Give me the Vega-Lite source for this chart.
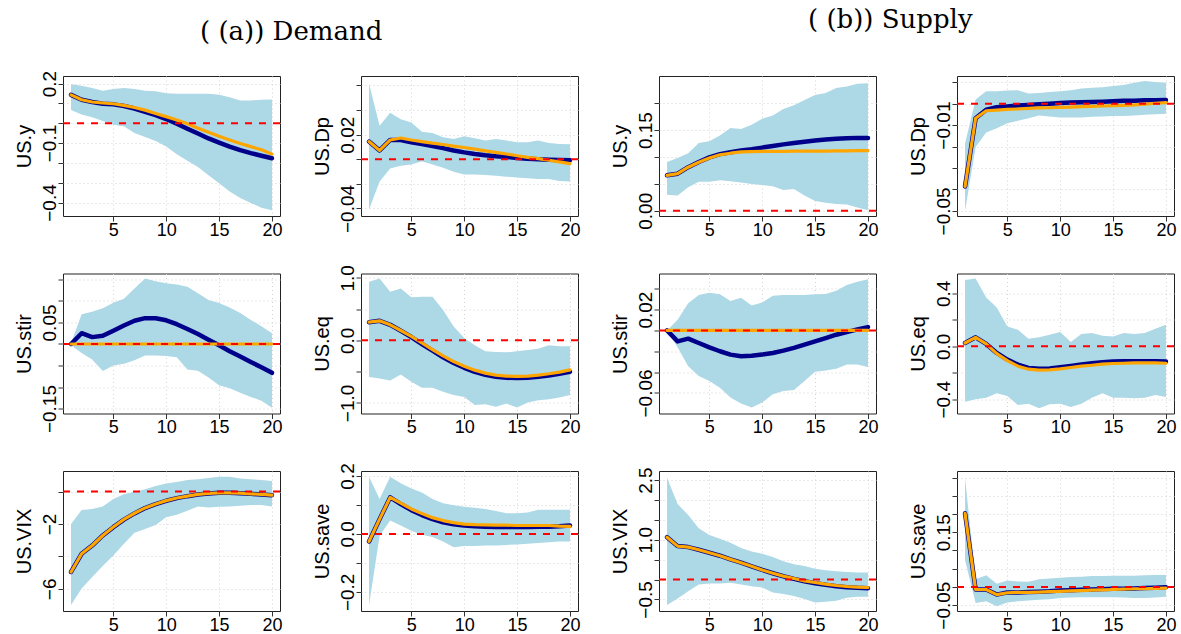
{
"$schema":"https://vega.github.io/schema/vega-lite/v6.json",
"padding":{"left":13,"top":6,"right":4,"bottom":0},
"background":"white",
"config":{
 "view":{"stroke":"#222","strokeWidth":1},
 "font":"Liberation Sans",
 "axis":{"domain":false,"grid":true,"gridColor":"#d3d3d3","gridDash":[1,3],"gridWidth":1,"tickColor":"#333","tickSize":5,"labelFont":"Liberation Sans","labelFontSize":19,"labelColor":"#000","titleFont":"Liberation Sans","titleFontSize":20,"titleFontWeight":"normal","titleColor":"#000","labelFlush":false,"labelOverlap":false,"labelBound":false},
 "axisY":{"labelAngle":-90,"labelAlign":"center","labelBaseline":"alphabetic","labelPadding":3,"titlePadding":6,"labelOverlap":false,"tickCount":30},
 "axisX":{"labelPadding":0,"labelFontSize":18,"format":"d"},
 "line":{"strokeCap":"round","strokeJoin":"round"},
 "title":{"font":"DejaVu Serif","fontSize":26,"fontWeight":"normal","color":"#000"}
},
"datasets":{
 "Ay":[
  {"h":1,"lo":0.066,"hi":0.197,"b":0.143,"o":0.143},{"h":2,"lo":0.044,"hi":0.189,"b":0.118,"o":0.118},{"h":3,"lo":0.030,"hi":0.177,"b":0.107,"o":0.107},{"h":4,"lo":0.011,"hi":0.164,"b":0.098,"o":0.102},{"h":5,"lo":-0.008,"hi":0.172,"b":0.095,"o":0.098},{"h":6,"lo":-0.016,"hi":0.177,"b":0.087,"o":0.090},{"h":7,"lo":-0.049,"hi":0.172,"b":0.074,"o":0.079},{"h":8,"lo":-0.069,"hi":0.164,"b":0.057,"o":0.066},{"h":9,"lo":-0.090,"hi":0.161,"b":0.041,"o":0.049},{"h":10,"lo":-0.118,"hi":0.151,"b":0.021,"o":0.033},{"h":11,"lo":-0.156,"hi":0.148,"b":-0.003,"o":0.016},{"h":12,"lo":-0.189,"hi":0.148,"b":-0.028,"o":-0.003},{"h":13,"lo":-0.221,"hi":0.148,"b":-0.052,"o":-0.025},{"h":14,"lo":-0.262,"hi":0.148,"b":-0.077,"o":-0.046},{"h":15,"lo":-0.303,"hi":0.144,"b":-0.098,"o":-0.066},{"h":16,"lo":-0.344,"hi":0.131,"b":-0.118,"o":-0.085},{"h":17,"lo":-0.377,"hi":0.115,"b":-0.136,"o":-0.102},{"h":18,"lo":-0.402,"hi":0.115,"b":-0.151,"o":-0.118},{"h":19,"lo":-0.426,"hi":0.118,"b":-0.164,"o":-0.134},{"h":20,"lo":-0.439,"hi":0.120,"b":-0.177,"o":-0.156}],
 "ADp":[
  {"h":1,"lo":-0.0408,"hi":0.0613,"b":0.0144,"o":0.0144},{"h":2,"lo":-0.0181,"hi":0.0272,"b":0.0072,"o":0.0072},{"h":3,"lo":-0.0075,"hi":0.0379,"b":0.0157,"o":0.0157},{"h":4,"lo":-0.0053,"hi":0.0325,"b":0.0157,"o":0.0173},{"h":5,"lo":-0.0043,"hi":0.0299,"b":0.0139,"o":0.0157},{"h":6,"lo":-0.0016,"hi":0.0224,"b":0.0123,"o":0.0144},{"h":7,"lo":-0.0043,"hi":0.0213,"b":0.0107,"o":0.0131},{"h":8,"lo":-0.0069,"hi":0.0179,"b":0.0091,"o":0.0120},{"h":9,"lo":-0.0101,"hi":0.0165,"b":0.0072,"o":0.0107},{"h":10,"lo":-0.0123,"hi":0.0187,"b":0.0056,"o":0.0096},{"h":11,"lo":-0.0123,"hi":0.0171,"b":0.0043,"o":0.0083},{"h":12,"lo":-0.0128,"hi":0.0152,"b":0.0032,"o":0.0069},{"h":13,"lo":-0.0133,"hi":0.0165,"b":0.0024,"o":0.0056},{"h":14,"lo":-0.0141,"hi":0.0152,"b":0.0019,"o":0.0043},{"h":15,"lo":-0.0149,"hi":0.0139,"b":0.0011,"o":0.0029},{"h":16,"lo":-0.0155,"hi":0.0139,"b":0.0005,"o":0.0016},{"h":17,"lo":-0.0160,"hi":0.0152,"b":0.0000,"o":0.0005},{"h":18,"lo":-0.0160,"hi":0.0133,"b":-0.0003,"o":-0.0008},{"h":19,"lo":-0.0176,"hi":0.0125,"b":-0.0005,"o":-0.0021},{"h":20,"lo":-0.0181,"hi":0.0123,"b":-0.0008,"o":-0.0035}],
 "Astir":[
  {"h":1,"lo":-0.003,"hi":0.002,"b":0,"o":0},{"h":2,"lo":-0.021,"hi":0.069,"b":0.025,"o":0},{"h":3,"lo":-0.036,"hi":0.075,"b":0.016,"o":0},{"h":4,"lo":-0.063,"hi":0.083,"b":0.019,"o":0},{"h":5,"lo":-0.050,"hi":0.096,"b":0.031,"o":0},{"h":6,"lo":-0.046,"hi":0.105,"b":0.043,"o":0},{"h":7,"lo":-0.038,"hi":0.129,"b":0.054,"o":0},{"h":8,"lo":-0.027,"hi":0.152,"b":0.060,"o":0},{"h":9,"lo":-0.027,"hi":0.146,"b":0.060,"o":0},{"h":10,"lo":-0.028,"hi":0.141,"b":0.055,"o":0},{"h":11,"lo":-0.031,"hi":0.138,"b":0.046,"o":0},{"h":12,"lo":-0.059,"hi":0.133,"b":0.035,"o":0},{"h":13,"lo":-0.062,"hi":0.118,"b":0.023,"o":0},{"h":14,"lo":-0.078,"hi":0.102,"b":0.010,"o":0},{"h":15,"lo":-0.096,"hi":0.095,"b":-0.003,"o":0},{"h":16,"lo":-0.103,"hi":0.085,"b":-0.017,"o":0},{"h":17,"lo":-0.113,"hi":0.072,"b":-0.029,"o":0},{"h":18,"lo":-0.123,"hi":0.056,"b":-0.042,"o":0},{"h":19,"lo":-0.132,"hi":0.041,"b":-0.054,"o":0},{"h":20,"lo":-0.148,"hi":0.025,"b":-0.067,"o":0}],
 "Aeq":[
  {"h":1,"lo":-0.587,"hi":0.937,"b":0.291,"o":0.291},{"h":2,"lo":-0.608,"hi":0.989,"b":0.312,"o":0.312},{"h":3,"lo":-0.640,"hi":0.778,"b":0.249,"o":0.249},{"h":4,"lo":-0.545,"hi":0.831,"b":0.153,"o":0.158},{"h":5,"lo":-0.661,"hi":0.688,"b":0.053,"o":0.063},{"h":6,"lo":-0.757,"hi":0.698,"b":-0.058,"o":-0.042},{"h":7,"lo":-0.757,"hi":0.698,"b":-0.164,"o":-0.148},{"h":8,"lo":-0.820,"hi":0.487,"b":-0.270,"o":-0.249},{"h":9,"lo":-0.873,"hi":0.222,"b":-0.360,"o":-0.339},{"h":10,"lo":-0.905,"hi":0.037,"b":-0.439,"o":-0.413},{"h":11,"lo":-1.032,"hi":-0.079,"b":-0.503,"o":-0.476},{"h":12,"lo":-1.021,"hi":-0.175,"b":-0.550,"o":-0.524},{"h":13,"lo":-1.063,"hi":-0.185,"b":-0.582,"o":-0.556},{"h":14,"lo":-1.011,"hi":-0.190,"b":-0.598,"o":-0.571},{"h":15,"lo":-1.074,"hi":-0.175,"b":-0.603,"o":-0.577},{"h":16,"lo":-0.995,"hi":-0.153,"b":-0.598,"o":-0.571},{"h":17,"lo":-0.958,"hi":-0.132,"b":-0.582,"o":-0.556},{"h":18,"lo":-0.942,"hi":-0.079,"b":-0.561,"o":-0.534},{"h":19,"lo":-0.915,"hi":-0.095,"b":-0.534,"o":-0.508},{"h":20,"lo":-0.873,"hi":-0.095,"b":-0.503,"o":-0.471}],
 "AVIX":[
  {"h":1,"lo":-7.0,"hi":-2.0,"b":-4.96,"o":-4.96},{"h":2,"lo":-5.98,"hi":-1.143,"b":-3.84,"o":-3.84},{"h":3,"lo":-5.27,"hi":-1.082,"b":-3.33,"o":-3.33},{"h":4,"lo":-4.59,"hi":-0.918,"b":-2.71,"o":-2.71},{"h":5,"lo":-3.94,"hi":-0.469,"b":-2.20,"o":-2.19},{"h":6,"lo":-3.22,"hi":-0.163,"b":-1.73,"o":-1.72},{"h":7,"lo":-2.55,"hi":-0.02,"b":-1.35,"o":-1.34},{"h":8,"lo":-2.31,"hi":0.143,"b":-1.02,"o":-1.01},{"h":9,"lo":-2.06,"hi":0.347,"b":-0.776,"o":-0.765},{"h":10,"lo":-1.59,"hi":0.49,"b":-0.571,"o":-0.56},{"h":11,"lo":-1.43,"hi":0.592,"b":-0.408,"o":-0.40},{"h":12,"lo":-1.18,"hi":0.714,"b":-0.286,"o":-0.28},{"h":13,"lo":-0.918,"hi":0.755,"b":-0.184,"o":-0.18},{"h":14,"lo":-0.98,"hi":0.837,"b":-0.122,"o":-0.12},{"h":15,"lo":-0.94,"hi":0.918,"b":-0.082,"o":-0.08},{"h":16,"lo":-0.918,"hi":0.918,"b":-0.082,"o":-0.08},{"h":17,"lo":-0.878,"hi":0.796,"b":-0.102,"o":-0.10},{"h":18,"lo":-0.837,"hi":0.755,"b":-0.143,"o":-0.14},{"h":19,"lo":-0.837,"hi":0.714,"b":-0.184,"o":-0.18},{"h":20,"lo":-0.918,"hi":0.653,"b":-0.224,"o":-0.22}],
 "Asave":[
  {"h":1,"lo":-0.246,"hi":0.197,"b":-0.026,"o":-0.026},{"h":2,"lo":-0.006,"hi":0.120,"b":0.051,"o":0.051},{"h":3,"lo":0.046,"hi":0.197,"b":0.126,"o":0.126},{"h":4,"lo":0.029,"hi":0.175,"b":0.103,"o":0.106},{"h":5,"lo":0.011,"hi":0.157,"b":0.082,"o":0.086},{"h":6,"lo":-0.003,"hi":0.143,"b":0.065,"o":0.070},{"h":7,"lo":-0.011,"hi":0.120,"b":0.051,"o":0.056},{"h":8,"lo":-0.026,"hi":0.106,"b":0.040,"o":0.046},{"h":9,"lo":-0.046,"hi":0.099,"b":0.033,"o":0.039},{"h":10,"lo":-0.042,"hi":0.094,"b":0.029,"o":0.034},{"h":11,"lo":-0.042,"hi":0.090,"b":0.026,"o":0.032},{"h":12,"lo":-0.040,"hi":0.086,"b":0.025,"o":0.031},{"h":13,"lo":-0.040,"hi":0.079,"b":0.024,"o":0.030},{"h":14,"lo":-0.038,"hi":0.071,"b":0.024,"o":0.030},{"h":15,"lo":-0.037,"hi":0.071,"b":0.024,"o":0.029},{"h":16,"lo":-0.034,"hi":0.074,"b":0.024,"o":0.029},{"h":17,"lo":-0.031,"hi":0.083,"b":0.025,"o":0.029},{"h":18,"lo":-0.029,"hi":0.083,"b":0.025,"o":0.029},{"h":19,"lo":-0.026,"hi":0.083,"b":0.026,"o":0.027},{"h":20,"lo":-0.026,"hi":0.083,"b":0.029,"o":0.026}],
 "By":[
  {"h":1,"lo":0.0296,"hi":0.0907,"b":0.0659,"o":0.0659},{"h":2,"lo":0.0284,"hi":0.098,"b":0.069,"o":0.069},{"h":3,"lo":0.0436,"hi":0.107,"b":0.081,"o":0.081},{"h":4,"lo":0.0538,"hi":0.126,"b":0.0907,"o":0.0901},{"h":5,"lo":0.0538,"hi":0.129,"b":0.0992,"o":0.098},{"h":6,"lo":0.0569,"hi":0.140,"b":0.1053,"o":0.104},{"h":7,"lo":0.055,"hi":0.154,"b":0.1089,"o":0.107},{"h":8,"lo":0.0526,"hi":0.152,"b":0.1119,"o":0.1095},{"h":9,"lo":0.0496,"hi":0.160,"b":0.1143,"o":0.110},{"h":10,"lo":0.0478,"hi":0.171,"b":0.1174,"o":0.1105},{"h":11,"lo":0.0454,"hi":0.177,"b":0.1204,"o":0.1105},{"h":12,"lo":0.0387,"hi":0.189,"b":0.1234,"o":0.1105},{"h":13,"lo":0.0405,"hi":0.196,"b":0.1258,"o":0.111},{"h":14,"lo":0.0284,"hi":0.206,"b":0.1282,"o":0.111},{"h":15,"lo":0.0181,"hi":0.215,"b":0.1307,"o":0.111},{"h":16,"lo":0.0151,"hi":0.219,"b":0.1325,"o":0.111},{"h":17,"lo":0.0127,"hi":0.228,"b":0.1337,"o":0.1115},{"h":18,"lo":0.0115,"hi":0.231,"b":0.1349,"o":0.1115},{"h":19,"lo":0.006,"hi":0.236,"b":0.1355,"o":0.1119},{"h":20,"lo":0.0012,"hi":0.237,"b":0.1355,"o":0.1119}],
 "BDp":[
  {"h":1,"lo":-0.0501,"hi":-0.0186,"b":-0.0386,"o":-0.0386},{"h":2,"lo":-0.0202,"hi":0.0019,"b":-0.0068,"o":-0.0068},{"h":3,"lo":-0.0134,"hi":0.0058,"b":-0.0028,"o":-0.0033},{"h":4,"lo":-0.0115,"hi":0.0058,"b":-0.0017,"o":-0.0030},{"h":5,"lo":-0.0091,"hi":0.0061,"b":-0.0013,"o":-0.0027},{"h":6,"lo":-0.0080,"hi":0.0063,"b":-0.0009,"o":-0.0025},{"h":7,"lo":-0.0068,"hi":0.0047,"b":-0.0006,"o":-0.0022},{"h":8,"lo":-0.0055,"hi":0.0050,"b":-0.0003,"o":-0.0020},{"h":9,"lo":-0.0060,"hi":0.0054,"b":0.0000,"o":-0.0019},{"h":10,"lo":-0.0065,"hi":0.0058,"b":0.0003,"o":-0.0017},{"h":11,"lo":-0.0065,"hi":0.0063,"b":0.0005,"o":-0.0016},{"h":12,"lo":-0.0065,"hi":0.0071,"b":0.0006,"o":-0.0014},{"h":13,"lo":-0.0061,"hi":0.0074,"b":0.0008,"o":-0.0013},{"h":14,"lo":-0.0060,"hi":0.0077,"b":0.0009,"o":-0.0011},{"h":15,"lo":-0.0058,"hi":0.0082,"b":0.0011,"o":-0.0009},{"h":16,"lo":-0.0057,"hi":0.0087,"b":0.0013,"o":-0.0008},{"h":17,"lo":-0.0055,"hi":0.0098,"b":0.0014,"o":-0.0006},{"h":18,"lo":-0.0052,"hi":0.0106,"b":0.0016,"o":-0.0002},{"h":19,"lo":-0.0049,"hi":0.0101,"b":0.0016,"o":0.0002},{"h":20,"lo":-0.0047,"hi":0.0098,"b":0.0017,"o":0.0005}],
 "Bstir":[
  {"h":1,"lo":0,"hi":0,"b":0,"o":0},{"h":2,"lo":-0.0162,"hi":0.0102,"b":-0.0105,"o":0},{"h":3,"lo":-0.0343,"hi":0.026,"b":-0.0079,"o":0},{"h":4,"lo":-0.0438,"hi":0.034,"b":-0.0121,"o":0},{"h":5,"lo":-0.0486,"hi":0.0362,"b":-0.0162,"o":0},{"h":6,"lo":-0.0549,"hi":0.0346,"b":-0.020,"o":0},{"h":7,"lo":-0.0644,"hi":0.0283,"b":-0.0232,"o":0},{"h":8,"lo":-0.0702,"hi":0.0314,"b":-0.0248,"o":0},{"h":9,"lo":-0.074,"hi":0.0238,"b":-0.0244,"o":0},{"h":10,"lo":-0.0692,"hi":0.0267,"b":-0.0232,"o":0},{"h":11,"lo":-0.0613,"hi":0.0333,"b":-0.0216,"o":0},{"h":12,"lo":-0.0581,"hi":0.034,"b":-0.0194,"o":0},{"h":13,"lo":-0.0571,"hi":0.034,"b":-0.0168,"o":0},{"h":14,"lo":-0.0486,"hi":0.034,"b":-0.0137,"o":0},{"h":15,"lo":-0.0397,"hi":0.0346,"b":-0.0105,"o":0},{"h":16,"lo":-0.0384,"hi":0.0349,"b":-0.0073,"o":0},{"h":17,"lo":-0.0368,"hi":0.0381,"b":-0.0041,"o":0},{"h":18,"lo":-0.0327,"hi":0.0435,"b":-0.0016,"o":0},{"h":19,"lo":-0.0327,"hi":0.0467,"b":0.001,"o":0},{"h":20,"lo":-0.0352,"hi":0.0492,"b":0.0032,"o":0}],
 "Beq":[
  {"h":1,"lo":-0.418,"hi":0.500,"b":0.025,"o":0.025},{"h":2,"lo":-0.400,"hi":0.513,"b":0.068,"o":0.068},{"h":3,"lo":-0.388,"hi":0.368,"b":0.018,"o":0.018},{"h":4,"lo":-0.355,"hi":0.293,"b":-0.050,"o":-0.055},{"h":5,"lo":-0.375,"hi":0.150,"b":-0.100,"o":-0.108},{"h":6,"lo":-0.443,"hi":0.125,"b":-0.138,"o":-0.150},{"h":7,"lo":-0.433,"hi":0.058,"b":-0.163,"o":-0.173},{"h":8,"lo":-0.468,"hi":0.068,"b":-0.170,"o":-0.180},{"h":9,"lo":-0.438,"hi":0.088,"b":-0.168,"o":-0.178},{"h":10,"lo":-0.433,"hi":0.108,"b":-0.158,"o":-0.170},{"h":11,"lo":-0.458,"hi":0.033,"b":-0.148,"o":-0.160},{"h":12,"lo":-0.433,"hi":0.093,"b":-0.138,"o":-0.150},{"h":13,"lo":-0.388,"hi":0.100,"b":-0.128,"o":-0.143},{"h":14,"lo":-0.355,"hi":0.080,"b":-0.120,"o":-0.135},{"h":15,"lo":-0.388,"hi":0.075,"b":-0.115,"o":-0.130},{"h":16,"lo":-0.388,"hi":0.100,"b":-0.113,"o":-0.128},{"h":17,"lo":-0.393,"hi":0.093,"b":-0.113,"o":-0.125},{"h":18,"lo":-0.388,"hi":0.100,"b":-0.113,"o":-0.125},{"h":19,"lo":-0.368,"hi":0.133,"b":-0.113,"o":-0.125},{"h":20,"lo":-0.383,"hi":0.163,"b":-0.115,"o":-0.128}],
 "BVIX":[
  {"h":1,"lo":-0.64,"hi":2.56,"b":1.064,"o":1.064},{"h":2,"lo":-0.474,"hi":1.895,"b":0.84,"o":0.84},{"h":3,"lo":-0.291,"hi":1.621,"b":0.815,"o":0.815},{"h":4,"lo":-0.125,"hi":1.288,"b":0.748,"o":0.748},{"h":5,"lo":-0.10,"hi":1.122,"b":0.673,"o":0.673},{"h":6,"lo":-0.10,"hi":1.022,"b":0.599,"o":0.599},{"h":7,"lo":-0.083,"hi":0.923,"b":0.507,"o":0.507},{"h":8,"lo":-0.125,"hi":0.79,"b":0.424,"o":0.424},{"h":9,"lo":-0.166,"hi":0.707,"b":0.333,"o":0.333},{"h":10,"lo":-0.20,"hi":0.648,"b":0.241,"o":0.241},{"h":11,"lo":-0.324,"hi":0.565,"b":0.158,"o":0.16},{"h":12,"lo":-0.366,"hi":0.457,"b":0.083,"o":0.087},{"h":13,"lo":-0.416,"hi":0.382,"b":0.017,"o":0.025},{"h":14,"lo":-0.49,"hi":0.341,"b":-0.042,"o":-0.033},{"h":15,"lo":-0.574,"hi":0.274,"b":-0.091,"o":-0.075},{"h":16,"lo":-0.557,"hi":0.233,"b":-0.133,"o":-0.116},{"h":17,"lo":-0.532,"hi":0.208,"b":-0.166,"o":-0.150},{"h":18,"lo":-0.457,"hi":0.191,"b":-0.191,"o":-0.175},{"h":19,"lo":-0.432,"hi":0.175,"b":-0.208,"o":-0.191},{"h":20,"lo":-0.432,"hi":0.175,"b":-0.216,"o":-0.200}],
 "Bsave":[
  {"h":1,"lo":0.073,"hi":0.300,"b":0.202,"o":0.202},{"h":2,"lo":-0.044,"hi":0.021,"b":-0.007,"o":-0.007},{"h":3,"lo":-0.039,"hi":0.032,"b":-0.007,"o":-0.007},{"h":4,"lo":-0.053,"hi":0.009,"b":-0.021,"o":-0.021},{"h":5,"lo":-0.043,"hi":0.018,"b":-0.015,"o":-0.016},{"h":6,"lo":-0.039,"hi":0.015,"b":-0.015,"o":-0.015},{"h":7,"lo":-0.037,"hi":0.014,"b":-0.014,"o":-0.015},{"h":8,"lo":-0.035,"hi":0.021,"b":-0.013,"o":-0.014},{"h":9,"lo":-0.034,"hi":0.023,"b":-0.012,"o":-0.013},{"h":10,"lo":-0.030,"hi":0.025,"b":-0.010,"o":-0.012},{"h":11,"lo":-0.029,"hi":0.027,"b":-0.009,"o":-0.011},{"h":12,"lo":-0.028,"hi":0.028,"b":-0.008,"o":-0.010},{"h":13,"lo":-0.028,"hi":0.030,"b":-0.007,"o":-0.009},{"h":14,"lo":-0.028,"hi":0.030,"b":-0.006,"o":-0.008},{"h":15,"lo":-0.028,"hi":0.031,"b":-0.005,"o":-0.007},{"h":16,"lo":-0.029,"hi":0.031,"b":-0.005,"o":-0.006},{"h":17,"lo":-0.030,"hi":0.031,"b":-0.004,"o":-0.005},{"h":18,"lo":-0.030,"hi":0.032,"b":-0.003,"o":-0.005},{"h":19,"lo":-0.029,"hi":0.033,"b":-0.002,"o":-0.004},{"h":20,"lo":-0.027,"hi":0.033,"b":-0.001,"o":-0.003}]
},
"bounds":"flush",
"columns":4,
"spacing":{"row":57.5,"column":81},
"concat":[
   {"data":{"name":"Ay"},"width":217,"height":140,"title":{"text":"( (a)) Demand","anchor":"start","frame":"group","dx":137,"offset":25},
    "layer":[
     {"mark":{"type":"area","color":"#ADD8E6","opacity":1},"encoding":{"x":{"field":"h","type":"quantitative","scale":{"domain":[0.24,20.76],"nice":false,"zero":false},"axis":{"values":[5,10,15,20],"title":null,"format":"d"}},"y":{"field":"lo","type":"quantitative","scale":{"domain":[-0.468,0.238],"nice":false,"zero":false},"axis":{"title":"US.y","tickCount":30,"values":[-0.4,-0.3,-0.2,-0.1,0,0.1,0.2],"format":".1f","labelExpr":"indexof([0.2,-0.1,-0.4],datum.value)>=0?datum.label:''"}},"y2":{"field":"hi"}}},
     {"mark":{"type":"line","color":"#00008B","strokeWidth":4.5},"encoding":{"x":{"field":"h","type":"quantitative"},"y":{"field":"b","type":"quantitative"}}},
     {"mark":{"type":"line","color":"#FFA500","strokeWidth":3.2},"encoding":{"x":{"field":"h","type":"quantitative"},"y":{"field":"o","type":"quantitative"}}},
     {"transform":[{"filter":"datum.h==1"}],"mark":{"type":"rule","color":"#FF0000","strokeDash":[7,7],"strokeWidth":2},"encoding":{"y":{"datum":0}}}]},
   {"data":{"name":"ADp"},"width":217,"height":140,
    "layer":[
     {"mark":{"type":"area","color":"#ADD8E6","opacity":1},"encoding":{"x":{"field":"h","type":"quantitative","scale":{"domain":[0.24,20.76],"nice":false,"zero":false},"axis":{"values":[5,10,15,20],"title":null,"format":"d"}},"y":{"field":"lo","type":"quantitative","scale":{"domain":[-0.0461,0.0677],"nice":false,"zero":false},"axis":{"title":"US.Dp","tickCount":30,"values":[-0.04,-0.02,0,0.02,0.04,0.06],"format":".2f","labelExpr":"indexof([0.02,-0.04],datum.value)>=0?datum.label:''"}},"y2":{"field":"hi"}}},
     {"mark":{"type":"line","color":"#00008B","strokeWidth":4.5},"encoding":{"x":{"field":"h","type":"quantitative"},"y":{"field":"b","type":"quantitative"}}},
     {"mark":{"type":"line","color":"#FFA500","strokeWidth":3.2},"encoding":{"x":{"field":"h","type":"quantitative"},"y":{"field":"o","type":"quantitative"}}},
     {"transform":[{"filter":"datum.h==1"}],"mark":{"type":"rule","color":"#FF0000","strokeDash":[7,7],"strokeWidth":2},"encoding":{"y":{"datum":0}}}]},
   {"data":{"name":"By"},"width":217,"height":140,"title":{"text":"( (b)) Supply","anchor":"start","frame":"group","dx":149,"offset":43},
    "layer":[
     {"mark":{"type":"area","color":"#ADD8E6","opacity":1},"encoding":{"x":{"field":"h","type":"quantitative","scale":{"domain":[0.24,20.76],"nice":false,"zero":false},"axis":{"values":[5,10,15,20],"title":null,"format":"d"}},"y":{"field":"lo","type":"quantitative","scale":{"domain":[-0.0097,0.2505],"nice":false,"zero":false},"axis":{"title":"US.y","tickCount":30,"values":[0,0.05,0.1,0.15,0.2],"format":".2f","labelExpr":"indexof([0.15,0],datum.value)>=0?datum.label:''"}},"y2":{"field":"hi"}}},
     {"mark":{"type":"line","color":"#00008B","strokeWidth":4.5},"encoding":{"x":{"field":"h","type":"quantitative"},"y":{"field":"b","type":"quantitative"}}},
     {"mark":{"type":"line","color":"#FFA500","strokeWidth":3.2},"encoding":{"x":{"field":"h","type":"quantitative"},"y":{"field":"o","type":"quantitative"}}},
     {"transform":[{"filter":"datum.h==1"}],"mark":{"type":"rule","color":"#FF0000","strokeDash":[7,7],"strokeWidth":2},"encoding":{"y":{"datum":0}}}]},
   {"data":{"name":"BDp"},"width":217,"height":140,
    "layer":[
     {"mark":{"type":"area","color":"#ADD8E6","opacity":1},"encoding":{"x":{"field":"h","type":"quantitative","scale":{"domain":[0.24,20.76],"nice":false,"zero":false},"axis":{"values":[5,10,15,20],"title":null,"format":"d"}},"y":{"field":"lo","type":"quantitative","scale":{"domain":[-0.0524,0.0129],"nice":false,"zero":false},"axis":{"title":"US.Dp","tickCount":30,"values":[-0.05,-0.04,-0.03,-0.02,-0.01,0,0.01],"format":".2f","labelExpr":"indexof([-0.01,-0.05],datum.value)>=0?datum.label:''"}},"y2":{"field":"hi"}}},
     {"mark":{"type":"line","color":"#00008B","strokeWidth":4.5},"encoding":{"x":{"field":"h","type":"quantitative"},"y":{"field":"b","type":"quantitative"}}},
     {"mark":{"type":"line","color":"#FFA500","strokeWidth":3.2},"encoding":{"x":{"field":"h","type":"quantitative"},"y":{"field":"o","type":"quantitative"}}},
     {"transform":[{"filter":"datum.h==1"}],"mark":{"type":"rule","color":"#FF0000","strokeDash":[7,7],"strokeWidth":2},"encoding":{"y":{"datum":0}}}]},
   {"data":{"name":"Astir"},"width":217,"height":140,
    "layer":[
     {"mark":{"type":"area","color":"#ADD8E6","opacity":1},"encoding":{"x":{"field":"h","type":"quantitative","scale":{"domain":[0.24,20.76],"nice":false,"zero":false},"axis":{"values":[5,10,15,20],"title":null,"format":"d"}},"y":{"field":"lo","type":"quantitative","scale":{"domain":[-0.1615,0.1638],"nice":false,"zero":false},"axis":{"title":"US.stir","tickCount":30,"values":[-0.15,-0.1,-0.05,0,0.05,0.1,0.15],"format":".2f","labelExpr":"indexof([0.05,-0.15],datum.value)>=0?datum.label:''"}},"y2":{"field":"hi"}}},
     {"mark":{"type":"line","color":"#00008B","strokeWidth":4.5},"encoding":{"x":{"field":"h","type":"quantitative"},"y":{"field":"b","type":"quantitative"}}},
     {"mark":{"type":"line","color":"#FFA500","strokeWidth":3.2},"encoding":{"x":{"field":"h","type":"quantitative"},"y":{"field":"o","type":"quantitative"}}},
     {"transform":[{"filter":"datum.h==1"}],"mark":{"type":"rule","color":"#FF0000","strokeDash":[7,7],"strokeWidth":2},"encoding":{"y":{"datum":0}}}]},
   {"data":{"name":"Aeq"},"width":217,"height":140,
    "layer":[
     {"mark":{"type":"area","color":"#ADD8E6","opacity":1},"encoding":{"x":{"field":"h","type":"quantitative","scale":{"domain":[0.24,20.76],"nice":false,"zero":false},"axis":{"values":[5,10,15,20],"title":null,"format":"d"}},"y":{"field":"lo","type":"quantitative","scale":{"domain":[-1.169,1.069],"nice":false,"zero":false},"axis":{"title":"US.eq","tickCount":30,"values":[-1,-0.5,0,0.5,1],"format":".1f","labelExpr":"indexof([1,0,-1],datum.value)>=0?datum.label:''"}},"y2":{"field":"hi"}}},
     {"mark":{"type":"line","color":"#00008B","strokeWidth":4.5},"encoding":{"x":{"field":"h","type":"quantitative"},"y":{"field":"b","type":"quantitative"}}},
     {"mark":{"type":"line","color":"#FFA500","strokeWidth":3.2},"encoding":{"x":{"field":"h","type":"quantitative"},"y":{"field":"o","type":"quantitative"}}},
     {"transform":[{"filter":"datum.h==1"}],"mark":{"type":"rule","color":"#FF0000","strokeDash":[7,7],"strokeWidth":2},"encoding":{"y":{"datum":0}}}]},
   {"data":{"name":"Bstir"},"width":217,"height":140,
    "layer":[
     {"mark":{"type":"area","color":"#ADD8E6","opacity":1},"encoding":{"x":{"field":"h","type":"quantitative","scale":{"domain":[0.24,20.76],"nice":false,"zero":false},"axis":{"values":[5,10,15,20],"title":null,"format":"d"}},"y":{"field":"lo","type":"quantitative","scale":{"domain":[-0.0797,0.0546],"nice":false,"zero":false},"axis":{"title":"US.stir","tickCount":30,"values":[-0.06,-0.04,-0.02,0,0.02,0.04],"format":".2f","labelExpr":"indexof([0.02,-0.06],datum.value)>=0?datum.label:''"}},"y2":{"field":"hi"}}},
     {"mark":{"type":"line","color":"#00008B","strokeWidth":4.5},"encoding":{"x":{"field":"h","type":"quantitative"},"y":{"field":"b","type":"quantitative"}}},
     {"mark":{"type":"line","color":"#FFA500","strokeWidth":3.2},"encoding":{"x":{"field":"h","type":"quantitative"},"y":{"field":"o","type":"quantitative"}}},
     {"transform":[{"filter":"datum.h==1"}],"mark":{"type":"rule","color":"#FF0000","strokeDash":[7,7],"strokeWidth":2},"encoding":{"y":{"datum":0}}}]},
   {"data":{"name":"Beq"},"width":217,"height":140,
    "layer":[
     {"mark":{"type":"area","color":"#ADD8E6","opacity":1},"encoding":{"x":{"field":"h","type":"quantitative","scale":{"domain":[0.24,20.76],"nice":false,"zero":false},"axis":{"values":[5,10,15,20],"title":null,"format":"d"}},"y":{"field":"lo","type":"quantitative","scale":{"domain":[-0.5075,0.55],"nice":false,"zero":false},"axis":{"title":"US.eq","tickCount":30,"values":[-0.4,-0.2,0,0.2,0.4],"format":".1f","labelExpr":"indexof([0.4,0,-0.4],datum.value)>=0?datum.label:''"}},"y2":{"field":"hi"}}},
     {"mark":{"type":"line","color":"#00008B","strokeWidth":4.5},"encoding":{"x":{"field":"h","type":"quantitative"},"y":{"field":"b","type":"quantitative"}}},
     {"mark":{"type":"line","color":"#FFA500","strokeWidth":3.2},"encoding":{"x":{"field":"h","type":"quantitative"},"y":{"field":"o","type":"quantitative"}}},
     {"transform":[{"filter":"datum.h==1"}],"mark":{"type":"rule","color":"#FF0000","strokeDash":[7,7],"strokeWidth":2},"encoding":{"y":{"datum":0}}}]},
   {"data":{"name":"AVIX"},"width":217,"height":140,
    "layer":[
     {"mark":{"type":"area","color":"#ADD8E6","opacity":1},"encoding":{"x":{"field":"h","type":"quantitative","scale":{"domain":[0.24,20.76],"nice":false,"zero":false},"axis":{"values":[5,10,15,20],"title":null,"format":"d"}},"y":{"field":"lo","type":"quantitative","scale":{"domain":[-7.367,1.265],"nice":false,"zero":false},"axis":{"title":"US.VIX","tickCount":30,"values":[-6,-4,-2,0],"format":"d","labelExpr":"indexof([-2,-6],datum.value)>=0?datum.label:''"}},"y2":{"field":"hi"}}},
     {"mark":{"type":"line","color":"#00008B","strokeWidth":4.5},"encoding":{"x":{"field":"h","type":"quantitative"},"y":{"field":"b","type":"quantitative"}}},
     {"mark":{"type":"line","color":"#FFA500","strokeWidth":3.2},"encoding":{"x":{"field":"h","type":"quantitative"},"y":{"field":"o","type":"quantitative"}}},
     {"transform":[{"filter":"datum.h==1"}],"mark":{"type":"rule","color":"#FF0000","strokeDash":[7,7],"strokeWidth":2},"encoding":{"y":{"datum":0}}}]},
   {"data":{"name":"Asave"},"width":217,"height":140,
    "layer":[
     {"mark":{"type":"area","color":"#ADD8E6","opacity":1},"encoding":{"x":{"field":"h","type":"quantitative","scale":{"domain":[0.24,20.76],"nice":false,"zero":false},"axis":{"values":[5,10,15,20],"title":null,"format":"d"}},"y":{"field":"lo","type":"quantitative","scale":{"domain":[-0.266,0.217],"nice":false,"zero":false},"axis":{"title":"US.save","tickCount":30,"values":[-0.2,-0.1,0,0.1,0.2],"format":".1f","labelExpr":"indexof([0.2,0,-0.2],datum.value)>=0?datum.label:''"}},"y2":{"field":"hi"}}},
     {"mark":{"type":"line","color":"#00008B","strokeWidth":4.5},"encoding":{"x":{"field":"h","type":"quantitative"},"y":{"field":"b","type":"quantitative"}}},
     {"mark":{"type":"line","color":"#FFA500","strokeWidth":3.2},"encoding":{"x":{"field":"h","type":"quantitative"},"y":{"field":"o","type":"quantitative"}}},
     {"transform":[{"filter":"datum.h==1"}],"mark":{"type":"rule","color":"#FF0000","strokeDash":[7,7],"strokeWidth":2},"encoding":{"y":{"datum":0}}}]},
   {"data":{"name":"BVIX"},"width":217,"height":140,
    "layer":[
     {"mark":{"type":"area","color":"#ADD8E6","opacity":1},"encoding":{"x":{"field":"h","type":"quantitative","scale":{"domain":[0.24,20.76],"nice":false,"zero":false},"axis":{"values":[5,10,15,20],"title":null,"format":"d"}},"y":{"field":"lo","type":"quantitative","scale":{"domain":[-0.79,2.727],"nice":false,"zero":false},"axis":{"title":"US.VIX","tickCount":30,"values":[-0.5,0,0.5,1,1.5,2,2.5],"format":".1f","labelExpr":"indexof([2.5,1,-0.5],datum.value)>=0?datum.label:''"}},"y2":{"field":"hi"}}},
     {"mark":{"type":"line","color":"#00008B","strokeWidth":4.5},"encoding":{"x":{"field":"h","type":"quantitative"},"y":{"field":"b","type":"quantitative"}}},
     {"mark":{"type":"line","color":"#FFA500","strokeWidth":3.2},"encoding":{"x":{"field":"h","type":"quantitative"},"y":{"field":"o","type":"quantitative"}}},
     {"transform":[{"filter":"datum.h==1"}],"mark":{"type":"rule","color":"#FF0000","strokeDash":[7,7],"strokeWidth":2},"encoding":{"y":{"datum":0}}}]},
   {"data":{"name":"Bsave"},"width":217,"height":140,
    "layer":[
     {"mark":{"type":"area","color":"#ADD8E6","opacity":1},"encoding":{"x":{"field":"h","type":"quantitative","scale":{"domain":[0.24,20.76],"nice":false,"zero":false},"axis":{"values":[5,10,15,20],"title":null,"format":"d"}},"y":{"field":"lo","type":"quantitative","scale":{"domain":[-0.066,0.318],"nice":false,"zero":false},"axis":{"title":"US.save","tickCount":30,"values":[-0.05,0,0.05,0.1,0.15,0.2,0.25,0.3],"format":".2f","labelExpr":"indexof([0.15,-0.05],datum.value)>=0?datum.label:''"}},"y2":{"field":"hi"}}},
     {"mark":{"type":"line","color":"#00008B","strokeWidth":4.5},"encoding":{"x":{"field":"h","type":"quantitative"},"y":{"field":"b","type":"quantitative"}}},
     {"mark":{"type":"line","color":"#FFA500","strokeWidth":3.2},"encoding":{"x":{"field":"h","type":"quantitative"},"y":{"field":"o","type":"quantitative"}}},
     {"transform":[{"filter":"datum.h==1"}],"mark":{"type":"rule","color":"#FF0000","strokeDash":[7,7],"strokeWidth":2},"encoding":{"y":{"datum":0}}}]}
]
}
